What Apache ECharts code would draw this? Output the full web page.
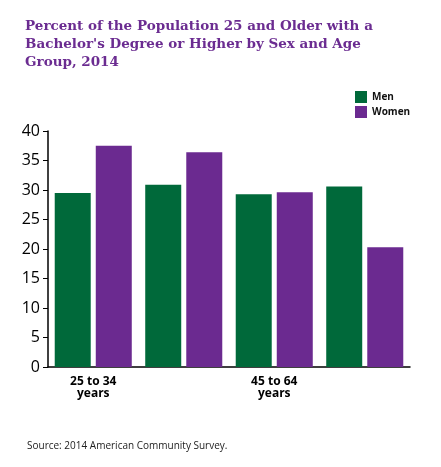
<!DOCTYPE html>
<html><head><meta charset="utf-8">
<script src="https://cdn.jsdelivr.net/npm/echarts@6/dist/echarts.min.js"></script>
<style>body{margin:0;background:#fff}#c{width:441px;height:467px}</style>
</head><body><div id="c"></div>
<script>
const categories = ['25 to 34\nyears', '35 to 44\nyears', '45 to 64\nyears', '65 and older'];
const men = [29.5, 30.9, 29.3, 30.6];
const women = [37.5, 36.4, 29.6, 20.3];
const yTicks = [0, 5, 10, 15, 20, 25, 30, 35, 40];
const chart = echarts.init(document.getElementById('c'));
chart.setOption({
  animation: false,
  title: [{
    text: "Percent of the Population 25 and Older with a\nBachelor's Degree or Higher by Sex and Age\nGroup, 2014",
    left: 20, top: 12,
    textStyle: {color: '#6B2C91', fontFamily: 'DejaVu Serif', fontWeight: 'bold', fontSize: 13.5, lineHeight: 18}
  }, {
    text: 'Source: 2014 American Community Survey.',
    left: 22, top: 436,
    textStyle: {color: '#222', fontFamily: 'Open Sans', fontWeight: 'normal', fontSize: 10}
  }],
  legend: {
    orient: 'vertical', left: 350, top: 86, itemWidth: 12, itemHeight: 12, itemGap: 3,
    icon: 'rect',
    textStyle: {fontFamily: 'Open Sans', fontWeight: 'bold', fontSize: 10, color: '#111'},
    data: ['Men', 'Women']
  },
  grid: {left: 48, right: 31, top: 131, bottom: 100},
  xAxis: {
    type: 'category', data: categories,
    axisLine: {lineStyle: {color: '#000', width: 1.5}},
    axisTick: {show: false},
    axisLabel: {color: '#000', fontFamily: 'Open Sans', fontWeight: 'bold', fontSize: 12, lineHeight: 12, margin: 9}
  },
  yAxis: {
    type: 'value', min: 0, max: 40, interval: 5,
    axisLine: {show: true, lineStyle: {color: '#000', width: 1.5}},
    axisTick: {show: true, inside: false, length: 5, lineStyle: {color: '#000'}},
    splitLine: {show: false},
    axisLabel: {color: '#000', fontFamily: 'Open Sans', fontSize: 16, margin: 8,
      formatter: v => yTicks.includes(v) ? String(v) : ''}
  },
  series: [
    {name: 'Men', type: 'bar', data: men, itemStyle: {color: '#00693A'}, barWidth: 36, barGap: '14%'},
    {name: 'Women', type: 'bar', data: women, itemStyle: {color: '#6B2A90'}, barWidth: 36}
  ]
});
</script></body></html>
